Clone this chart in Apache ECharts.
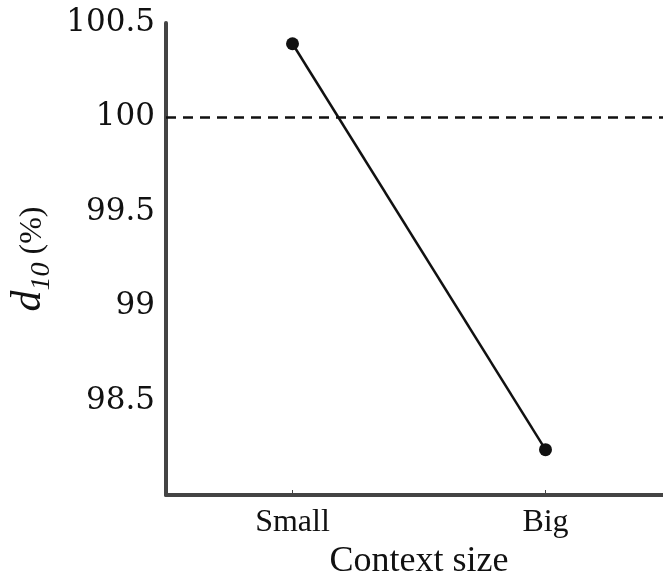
<!DOCTYPE html>
<html>
<head>
<meta charset="utf-8">
<script src="https://cdn.jsdelivr.net/npm/echarts@6/dist/echarts.min.js"></script>
<style>html,body{margin:0;padding:0;background:#fff;}#c{width:663px;height:571px;}</style>
</head>
<body>
<div id="c"></div>
<script>
const categories = ['Small', 'Big'];
const d10Values = [100.39, 98.24];
const referenceLevel = 100;
const yTicks = [98.5, 99, 99.5, 100, 100.5];

const chart = echarts.init(document.getElementById('c'), null, {renderer: 'canvas'});
chart.setOption({
  animation: false,
  backgroundColor: '#fff',
  grid: {left: 166, top: 23, width: 506, height: 472, containLabel: false, outerBoundsMode: 'none'},
  xAxis: {
    type: 'category',
    data: categories,
    boundaryGap: true,
    name: 'Context size',
    nameLocation: 'middle',
    nameGap: 42,
    nameTextStyle: {fontFamily: 'Liberation Serif', fontSize: 36, color: '#111'},
    axisLine: {lineStyle: {color: '#444', width: 4}},
    axisTick: {show: true, inside: true, length: 5, alignWithLabel: true, lineStyle: {color: '#444', width: 1}},
    axisLabel: {fontFamily: 'Liberation Serif', fontSize: 32, color: '#111', margin: 12}
  },
  yAxis: {
    type: 'value',
    min: 98,
    max: 100.5,
    interval: 0.5,
    name: '{d|d}{s|10}{p|(%)}',
    nameLocation: 'middle',
    nameGap: 108,
    nameRotate: 90,
    nameTextStyle: {
      color: '#111',
      rich: {
        d: {fontFamily: 'Liberation Serif', fontStyle: 'italic', fontSize: 42, color: '#111', verticalAlign: 'bottom', lineHeight: 42, padding: [0, 0, 5, 0]},
        s: {fontFamily: 'Liberation Serif', fontStyle: 'italic', fontSize: 28, color: '#111', verticalAlign: 'bottom', lineHeight: 28},
        p: {fontFamily: 'Liberation Serif', fontSize: 32, color: '#111', verticalAlign: 'bottom', lineHeight: 32, padding: [0, 0, 7, 8]}
      }
    },
    axisLine: {show: true, lineStyle: {color: '#444', width: 4}},
    axisTick: {show: false},
    splitLine: {show: false},
    axisLabel: {
      fontFamily: 'DejaVu Serif',
      fontSize: 31,
      color: '#111',
      margin: 11,
      formatter: function (v) {
        const hit = yTicks.find(t => Math.abs(t - v) < 1e-6);
        return hit === undefined ? '' : String(hit);
      }
    }
  },
  series: [{
    type: 'line',
    data: d10Values,
    symbol: 'circle',
    symbolSize: 13,
    itemStyle: {color: '#111'},
    lineStyle: {color: '#111', width: 2.5},
    markLine: {
      silent: true,
      symbol: 'none',
      label: {show: false},
      lineStyle: {color: '#111', type: [10, 7], width: 2.5},
      data: [{yAxis: referenceLevel}]
    }
  }]
});
</script>
</body>
</html>
